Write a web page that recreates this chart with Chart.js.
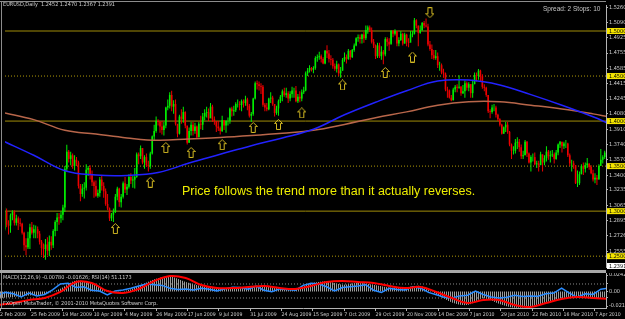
<!DOCTYPE html>
<html>
<head>
<meta charset="utf-8">
<script src="https://cdn.jsdelivr.net/npm/chart.js@4.4.1/dist/chart.umd.min.js"></script>
<style>
  html, body { margin: 0; padding: 0; background: #000; }
  #wrap { position: relative; width: 625px; height: 319px; overflow: hidden; background: #000; }
  #mainCanvas { position: absolute; left: 0; top: 0; }
  #indCanvas { position: absolute; left: 0; top: 273px; }
  .rule { position: absolute; background: #8c8c8c; }
  .txt { position: absolute; white-space: nowrap; line-height: 1; }
  .small { font-family: 'Liberation Sans Narrow', 'DejaVu Sans Condensed', 'Liberation Sans', Arial, sans-serif; font-size: 5.5px; color: #d0d0d0; }
  #hdr { left: 3px; top: 2px; }
  #spread { left: 543px; top: 6px; font-family: 'Liberation Sans', Arial, sans-serif; font-size: 6.5px; color: #c4c4c4; }
  #note { left: 182px; top: 185px; font-family: 'Liberation Sans', Arial, sans-serif; font-size: 12.5px; color: #eeee00; }
  #indName { left: 3px; top: 275px; }
  #copy { left: 3px; top: 301px; }
</style>
</head>
<body>
<div id="wrap">
  <canvas id="mainCanvas" width="625" height="272"></canvas>
  <canvas id="indCanvas" width="625" height="46"></canvas>
  <div class="rule" style="left:0;top:1px;width:606px;height:1px;"></div>
  <div class="rule" style="left:1px;top:1px;width:1px;height:307px;"></div>
  <div class="rule" style="left:0;top:270px;width:606px;height:3px;background:#a8a8a8;"></div>
  <div class="txt small" id="hdr">EURUSD,Daily&nbsp; 1.2452 1.2470 1.2367 1.2391</div>
  <div class="txt" id="spread">Spread: 2 Stops: 10</div>
  <div class="txt" id="note">Price follows the trend more than it actually reverses.</div>
  <div class="txt small" id="indName">MACD(12,26,9) -0.00780 -0.01626; RSI(14) 51.1173</div>
  <div class="txt small" id="copy">FXOpen MetaTrader, © 2001-2010 MetaQuotes Software Corp.</div>
</div>
<script>
// EURUSD daily, 2 Feb 2009 .. 14 Apr 2010, prices in pips (x 10000)
// one row per week, bar 0 = 2 Feb 2009
const firstOpen = 12806;
const closes = [
  12795, 13000, 12850, 12840, 12955,
  12990, 12870, 12920, 12870, 12860,
  12760, 12620, 12600, 12700, 12820,
  12760, 12800, 12800, 12750, 12660,
  12590, 12580, 12630, 12560, 12660,
  12620, 12780, 12880, 12930, 12920,
  12960, 13040, 13470, 13660, 13580,
  13620, 13500, 13570, 13540, 13280,
  13190, 13250, 13260, 13460, 13480,
  13400, 13320, 13280, 13170, 13200,
  13350, 13280, 13220, 13080, 13030,
  12920, 12960, 12990, 13160, 13250,
  13100, 13160, 13310, 13240, 13270,
  13380, 13340, 13350, 13380, 13630,
  13610, 13700, 13540, 13600, 13510,
  13500, 13640, 13830, 13890, 14000,
  13990, 13940, 13900, 13950, 14150,
  14170, 14290, 14160, 14190, 13970,
  13860, 14050, 14020, 14100, 13950,
  13760, 13890, 13960, 13890, 13940,
  13820, 13970, 13960, 14050, 14090,
  14100, 14030, 14160, 14020, 14000,
  13940, 13920, 13890, 14010, 13950,
  14000, 14000, 14140, 14110, 14120,
  14190, 14190, 14180, 14220, 14200,
  14240, 14170, 14060, 14080, 14250,
  14420, 14410, 14390, 14380, 14180,
  14150, 14130, 14250, 14260, 14190,
  14090, 14140, 14220, 14270, 14330,
  14290, 14310, 14250, 14300, 14340,
  14340, 14220, 14270, 14250, 14320,
  14340, 14530, 14560, 14590, 14570,
  14590, 14700, 14710, 14720, 14690,
  14640, 14780, 14750, 14690, 14680,
  14610, 14580, 14630, 14530, 14560,
  14680, 14710, 14690, 14780, 14710,
  14790, 14840, 14920, 14930, 14910,
  14960, 14920, 15010, 15040, 15010,
  14880, 14840, 14720, 14840, 14720,
  14770, 14740, 14910, 14880, 14850,
  15000, 14970, 15000, 14860, 14900,
  14970, 14860, 14960, 14880, 14870,
  14960, 14970, 15120, 15060, 14980,
  15010, 15090, 15060, 15050, 14850,
  14800, 14730, 14700, 14720, 14620,
  14620, 14540, 14530, 14350, 14340,
  14260, 14230, 14350, 14380,
  14370, 14380, 14310, 14330,
  14420, 14370, 14410, 14310, 14410,
  14510, 14500, 14560, 14500, 14380,
  14370, 14290, 14110, 14100, 14150,
  14150, 14070, 14020, 13960, 13860,
  13930, 13960, 13880, 13740, 13670,
  13670, 13760, 13770, 13710, 13610,
  13620, 13770, 13640, 13540, 13600,
  13600, 13520, 13530, 13510, 13630,
  13540, 13590, 13660, 13610, 13620,
  13630, 13580, 13650, 13740, 13770,
  13720, 13750, 13750, 13620, 13530,
  13530, 13510, 13310, 13310, 13410,
  13500, 13470, 13510, 13530, 13490,
  13420, 13350, 13370, 13350, 13500,
  13570, 13600, 13650
];
const highs = [
  12880, 13040, 13030, 12900, 12975,
  13010, 13010, 12960, 12940, 12920,
  12870, 12770, 12700, 12770, 12860,
  12880, 12850, 12840, 12830, 12780,
  12680, 12640, 12690, 12710, 12730,
  12720, 12800, 12900, 12980, 12980,
  13000, 13070, 13500, 13738, 13680,
  13660, 13640, 13620, 13600, 13560,
  13300, 13300, 13320, 13520, 13500,
  13510, 13450, 13340, 13340, 13240,
  13380, 13390, 13320, 13250, 13190,
  13040, 12980, 13030, 13190, 13270,
  13260, 13190, 13330, 13380, 13300,
  13410, 13420, 13390, 13480, 13650,
  13650, 13730, 13700, 13620, 13640,
  13560, 13660, 13840, 13960, 14050,
  14020, 14000, 14000, 13990, 14160,
  14240, 14320, 14338, 14230, 14240,
  13960, 14070, 14130, 14160, 14110,
  13920, 13930, 13990, 13990, 13980,
  13950, 13990, 14060, 14090, 14130,
  14160, 14140, 14200, 14180, 14050,
  14000, 14000, 13940, 14060, 14010,
  14010, 14040, 14150, 14160, 14170,
  14210, 14240, 14220, 14240, 14240,
  14280, 14260, 14190, 14100, 14260,
  14440, 14450, 14440, 14420, 14400,
  14200, 14200, 14260, 14320, 14280,
  14190, 14170, 14240, 14290, 14350,
  14370, 14370, 14330, 14330, 14380,
  14370, 14390, 14300, 14330, 14350,
  14380, 14550, 14590, 14620, 14600,
  14610, 14720, 14740, 14770, 14740,
  14710, 14790, 14843, 14790, 14730,
  14700, 14640, 14670, 14640, 14600,
  14700, 14760, 14740, 14800, 14790,
  14800, 14860, 14930, 14960, 14960,
  14970, 14990, 15060, 15060, 15060,
  15040, 14910, 14850, 14870, 14870,
  14830, 14790, 14930, 14930, 14920,
  15010, 15010, 15020, 15000, 14930,
  15000, 14980, 14980, 14970, 14920,
  15000, 15000, 15144, 15130, 15060,
  15060, 15100, 15110, 15140, 15080,
  14890, 14850, 14790, 14790, 14760,
  14660, 14640, 14580, 14540, 14380,
  14350, 14290, 14370, 14400,
  14410, 14510, 14390, 14400,
  14450, 14440, 14430, 14410, 14460,
  14540, 14540, 14579, 14570, 14520,
  14410, 14380, 14290, 14130, 14180,
  14190, 14170, 14080, 14030, 13970,
  13940, 13990, 13990, 13890, 13750,
  13720, 13800, 13820, 13800, 13740,
  13670, 13790, 13780, 13650, 13620,
  13640, 13650, 13560, 13560, 13660,
  13630, 13620, 13720, 13680, 13670,
  13680, 13650, 13680, 13750, 13780,
  13770, 13770, 13790, 13760, 13640,
  13570, 13560, 13510, 13450, 13440,
  13520, 13540, 13540, 13590, 13530,
  13510, 13460, 13420, 13400, 13520,
  13690, 13620, 13670
];
const lows = [
  12755, 12780, 12820, 12740, 12760,
  12900, 12840, 12840, 12790, 12830,
  12740, 12560, 12510, 12580, 12580,
  12740, 12700, 12700, 12700, 12630,
  12510, 12480, 12460, 12510, 12500,
  12570, 12590, 12720, 12780, 12850,
  12870, 12900, 12990, 13440, 13540,
  13510, 13470, 13450, 13500, 13250,
  13110, 13160, 13140, 13230, 13390,
  13350, 13280, 13150, 13160, 13150,
  13160, 13230, 13150, 13060, 13010,
  12890, 12890, 12880, 12980, 13120,
  13050, 13040, 13140, 13200, 13180,
  13250, 13300, 13260, 13250, 13370,
  13520, 13580, 13520, 13470, 13490,
  13440, 13470, 13630, 13780, 13870,
  13950, 13870, 13850, 13840, 13920,
  14120, 14140, 14110, 14080, 13950,
  13820, 13850, 13970, 13980, 13920,
  13740, 13760, 13840, 13840, 13860,
  13800, 13820, 13910, 13900, 14010,
  14040, 14000, 14040, 13990, 13960,
  13880, 13890, 13850, 13880, 13900,
  13870, 13950, 13970, 14050, 14060,
  14100, 14150, 14120, 14110, 14150,
  14170, 14120, 14040, 13990, 14060,
  14240, 14350, 14340, 14300, 14160,
  14110, 14110, 14120, 14200, 14170,
  14050, 14070, 14060, 14200, 14220,
  14270, 14260, 14200, 14220, 14260,
  14260, 14210, 14200, 14210, 14220,
  14300, 14330, 14500, 14540, 14550,
  14530, 14570, 14660, 14680, 14650,
  14630, 14630, 14700, 14650, 14620,
  14580, 14560, 14540, 14500, 14480,
  14560, 14660, 14640, 14680, 14680,
  14700, 14770, 14830, 14880, 14860,
  14860, 14870, 14900, 14970, 14990,
  14860, 14810, 14690, 14700, 14700,
  14680, 14630, 14720, 14830, 14780,
  14860, 14930, 14950, 14830, 14830,
  14890, 14840, 14860, 14830, 14820,
  14880, 14930, 14960, 15030, 14830,
  14970, 15000, 15030, 15040, 14830,
  14780, 14690, 14680, 14680, 14590,
  14560, 14520, 14480, 14330, 14260,
  14250, 14220, 14230, 14320,
  14320, 14360, 14280, 14300,
  14260, 14340, 14330, 14260, 14260,
  14410, 14440, 14460, 14440, 14360,
  14330, 14270, 14090, 14030, 14080,
  14110, 14040, 14000, 13940, 13850,
  13860, 13880, 13860, 13720, 13580,
  13630, 13640, 13690, 13660, 13580,
  13580, 13620, 13600, 13530, 13440,
  13550, 13510, 13480, 13440, 13520,
  13440, 13510, 13550, 13570, 13540,
  13600, 13530, 13570, 13620, 13700,
  13650, 13690, 13700, 13600, 13500,
  13440, 13470, 13300, 13267, 13290,
  13410, 13400, 13430, 13480, 13460,
  13410, 13330, 13310, 13290, 13350,
  13540, 13530, 13580
];

// moving averages, read every 16 bars
const maBars = [0, 16, 32, 48, 64, 80, 96, 112, 128, 144, 160, 176, 192, 208, 224, 240, 256, 272, 288, 304, 312];
const maBlue = [1.3781, 1.3620, 1.3449, 1.3401, 1.3396, 1.3428, 1.3535, 1.3631, 1.3727, 1.3813, 1.3909, 1.4070, 1.4209, 1.4337, 1.4444, 1.4455, 1.4401, 1.4294, 1.4176, 1.4048, 1.3973];
const maBrown = [1.4096, 1.4016, 1.3898, 1.3856, 1.3813, 1.3786, 1.3802, 1.3818, 1.3840, 1.3866, 1.3898, 1.3963, 1.4037, 1.4102, 1.4176, 1.4214, 1.4214, 1.4176, 1.4134, 1.4080, 1.4048];

// swing arrows
const upArrowBars = [58, 76, 84, 97, 113, 129, 142, 154, 175, 197, 211];
const upArrowPrices = [1.2807, 1.3321, 1.3706, 1.3652, 1.3738, 1.3930, 1.3963, 1.4091, 1.4401, 1.4540, 1.4711];
const downArrowBars = [220];
const downArrowPrices = [1.5203];

// round-number levels, current bid
const solidLevels = [1.5000, 1.4000, 1.3000];
const dottedLevels = [1.4500, 1.3500, 1.2500];
const bidPrice = 1.2391;

// price axis
const priceTicks = [1.5260, 1.5090, 1.4925, 1.4755, 1.4585, 1.4415, 1.4245, 1.4080, 1.3910, 1.3740, 1.3570, 1.3400, 1.3235, 1.3065, 1.2895, 1.2726, 1.2555];

// time axis
const dateBars = [0, 17, 33, 49, 65, 81, 97, 113, 129, 145, 161, 177, 193, 209, 225, 241, 257, 273, 289, 305];
const dateLabels = ['2 Feb 2009', '25 Feb 2009', '19 Mar 2009', '10 Apr 2009', '4 May 2009', '26 May 2009', '17 Jun 2009', '9 Jul 2009', '31 Jul 2009', '24 Aug 2009', '15 Sep 2009', '7 Oct 2009', '29 Oct 2009', '20 Nov 2009', '14 Dec 2009', '7 Jan 2010', '29 Jan 2010', '22 Feb 2010', '16 Mar 2010', '7 Apr 2010'];

// MACD(12,26,9), read every 8 bars
const macdBars = [0, 8, 16, 24, 32, 40, 48, 56, 64, 72, 80, 88, 96, 104, 112, 120, 128, 136, 144, 152, 160, 168, 176, 184, 192, 200, 208, 216, 224, 232, 240, 248, 256, 264, 272, 280, 288, 296, 304, 312];
const macdMain = [-0.010, -0.008, -0.006, -0.004, 0.004, 0.016, 0.012, 0.002, 0.000, 0.008, 0.018, 0.022, 0.014, 0.008, 0.004, 0.006, 0.006, 0.008, 0.005, 0.004, 0.012, 0.015, 0.010, 0.013, 0.010, 0.006, 0.006, 0.008, -0.004, -0.016, -0.020, -0.010, -0.018, -0.024, -0.022, -0.016, -0.010, -0.008, -0.010, -0.008];
const macdSignal = [-0.0198, -0.0169, -0.0125, -0.0096, -0.0007, 0.0140, 0.0125, 0.0007, -0.0022, 0.0037, 0.0154, 0.0228, 0.0198, 0.0096, 0.0051, 0.0051, 0.0066, 0.0081, 0.0051, 0.0037, 0.0081, 0.0140, 0.0154, 0.0140, 0.0125, 0.0081, 0.0051, 0.0066, -0.0007, -0.0096, -0.0169, -0.0125, -0.0125, -0.0198, -0.0228, -0.0169, -0.0110, -0.0081, -0.0096, -0.0110];

// RSI(14), read every 4 bars
const rsiBars = [0, 4, 8, 12, 16, 20, 24, 28, 32, 36, 40, 44, 48, 52, 56, 60, 64, 68, 72, 76, 80, 84, 88, 92, 96, 100, 104, 108, 112, 116, 120, 124, 128, 132, 136, 140, 144, 148, 152, 156, 160, 164, 168, 172, 176, 180, 184, 188, 192, 196, 200, 204, 208, 212, 216, 220, 224, 228, 232, 236, 240, 244, 248, 252, 256, 260, 264, 268, 272, 276, 280, 284, 288, 292, 296, 300, 304, 308, 312];
const rsiValues = [39, 46, 42, 33, 44, 36, 40, 53, 70, 72, 60, 62, 52, 50, 39, 50, 53, 58, 64, 70, 68, 66, 58, 54, 56, 53, 58, 55, 50, 56, 61, 60, 55, 64, 52, 48, 56, 54, 52, 66, 72, 70, 62, 50, 60, 62, 64, 68, 52, 46, 58, 54, 53, 62, 58, 46, 39, 32, 30, 36, 38, 50, 40, 33, 30, 32, 38, 34, 36, 35, 42, 44, 58, 44, 32, 42, 40, 55, 58];
const rsiLevels = [70, 30];
const indTicks = [0.024253, 0, -0.021343];

// visible window (bar numbers) and price range
const xMin = 1.175, xMax = 310.67;
const yMin = 1.23797, yMax = 1.52888;

const FONT = "'Liberation Sans Narrow', 'DejaVu Sans Condensed', 'Liberation Sans', Arial, sans-serif";
const AXIS_COL = '#b4b4b4';
const BULL = '#00ee00';
const BEAR = '#ee0000';

const opens = closes.map((c, i) => i === 0 ? firstOpen : closes[i - 1]);
const isBull = i => closes[i] >= opens[i];

function makeArrow(up) {
    const c = document.createElement('canvas');
    c.width = 9; c.height = 11;
    const g = c.getContext('2d');
    g.strokeStyle = '#d2b822';
    g.lineWidth = 1;
    g.beginPath();
    const pts = [[4.5, 0.5], [8.5, 4.5], [6.5, 4.5], [6.5, 10.5], [2.5, 10.5], [2.5, 4.5], [0.5, 4.5]];
    pts.forEach(([px, py], k) => {
        const yy = up ? py : 11 - py;
        if (k === 0) g.moveTo(px, yy); else g.lineTo(px, yy);
    });
    g.closePath();
    g.stroke();
    return c;
}

function hLine(level, color, dash) {
    return {
        type: 'line',
        data: [{ x: xMin, y: level }, { x: xMax, y: level }],
        borderColor: color,
        borderWidth: 1,
        borderDash: dash,
        pointRadius: 0,
        order: 20
    };
}

// yellow tags for round levels, white tag for bid
const levelTags = {
    id: 'levelTags',
    afterDraw(chart) {
        const ctx = chart.ctx;
        const ys = chart.scales.y;
        const left = ys.left + 1;
        const tag = (v, bg) => {
            const y = ys.getPixelForValue(v);
            ctx.save();
            ctx.fillStyle = bg;
            ctx.fillRect(left, y - 3, 18, 6);
            ctx.fillStyle = '#000';
            ctx.font = '5.5px ' + FONT;
            ctx.textBaseline = 'middle';
            ctx.fillText(v.toFixed(4), left + 2, y + 0.3);
            ctx.restore();
        };
        solidLevels.concat(dottedLevels).forEach(v => tag(v, '#f4e400'));
        tag(bidPrice, '#ffffff');
    }
};

const mainChart = new Chart(document.getElementById('mainCanvas'), {
    type: 'bar',
    data: {
        datasets: [
            ...solidLevels.map(v => hLine(v, '#a08c08', [])),
            ...dottedLevels.map(v => hLine(v, '#b09a08', [1, 2])),
            {
                // wicks
                type: 'bar',
                data: closes.map((c, i) => ({ x: i, y: [lows[i] / 1e4, highs[i] / 1e4] })),
                backgroundColor: ctx => isBull(ctx.dataIndex) ? BULL : BEAR,
                barThickness: 1,
                grouped: false,
                inflateAmount: 0,
                borderWidth: 0,
                order: 6
            },
            {
                // bodies
                type: 'bar',
                data: closes.map((c, i) => ({ x: i, y: [opens[i] / 1e4, c / 1e4] })),
                backgroundColor: ctx => isBull(ctx.dataIndex) ? BULL : BEAR,
                barThickness: 1.6,
                grouped: false,
                inflateAmount: 0,
                borderWidth: 0,
                order: 5
            },
            {
                type: 'line',
                data: maBars.map((b, k) => ({ x: b, y: maBrown[k] })),
                borderColor: '#b8664a',
                borderWidth: 1.5,
                pointRadius: 0,
                tension: 0.4,
                order: 3
            },
            {
                type: 'line',
                data: maBars.map((b, k) => ({ x: b, y: maBlue[k] })),
                borderColor: '#2222ff',
                borderWidth: 1.5,
                pointRadius: 0,
                tension: 0.4,
                order: 2
            },
            {
                type: 'scatter',
                data: upArrowBars.map((b, k) => ({ x: b, y: upArrowPrices[k] })),
                pointStyle: makeArrow(true),
                order: 1
            },
            {
                type: 'scatter',
                data: downArrowBars.map((b, k) => ({ x: b, y: downArrowPrices[k] })),
                pointStyle: makeArrow(false),
                order: 1
            }
        ]
    },
    options: {
        responsive: false,
        animation: false,
        events: [],
        layout: { padding: 0 },
        plugins: { legend: { display: false }, tooltip: { enabled: false } },
        scales: {
            x: { type: 'linear', min: xMin, max: xMax, display: false, offset: false },
            y: {
                position: 'right',
                min: yMin,
                max: yMax,
                afterBuildTicks: s => { s.ticks = priceTicks.map(v => ({ value: v })); },
                afterFit: s => { s.width = 19; s.paddingTop = 0; s.paddingBottom = 0; },
                ticks: {
                    autoSkip: false,
                    padding: 1,
                    color: '#d0d0d0',
                    font: { family: FONT, size: 5.5 },
                    callback: v => v.toFixed(4)
                },
                grid: { drawOnChartArea: false, tickLength: 2, color: AXIS_COL },
                border: { color: AXIS_COL }
            }
        }
    },
    plugins: [levelTags]
});

// striped fill like MT4 histogram lines
const stripe = document.createElement('canvas');
stripe.width = 2; stripe.height = 1;
const sg = stripe.getContext('2d');
sg.fillStyle = '#9c9c9c';
sg.fillRect(0, 0, 1, 1);
const stripePattern = sg.createPattern(stripe, 'repeat');

const indChart = new Chart(document.getElementById('indCanvas'), {
    type: 'line',
    data: {
        datasets: [
            {
                data: macdBars.map((b, k) => ({ x: b, y: macdMain[k] })),
                yAxisID: 'macd',
                borderWidth: 0,
                borderColor: 'rgba(0,0,0,0)',
                backgroundColor: stripePattern,
                fill: 'origin',
                pointRadius: 0,
                tension: 0.3,
                order: 10
            },
            ...rsiLevels.map(v => ({
                data: [{ x: xMin, y: v }, { x: xMax, y: v }],
                yAxisID: 'rsi',
                borderColor: '#8a8a8a',
                borderWidth: 1,
                borderDash: [1, 2],
                pointRadius: 0,
                order: 9
            })),
            {
                data: rsiBars.map((b, k) => ({ x: b, y: rsiValues[k] })),
                yAxisID: 'rsi',
                borderColor: '#2a8cff',
                borderWidth: 1.5,
                pointRadius: 0,
                order: 3
            },
            {
                data: macdBars.map((b, k) => ({ x: b, y: macdSignal[k] })),
                yAxisID: 'macd',
                borderColor: '#ff0000',
                borderWidth: 2,
                pointRadius: 0,
                tension: 0.4,
                order: 2
            }
        ]
    },
    options: {
        responsive: false,
        animation: false,
        events: [],
        layout: { padding: 0 },
        plugins: { legend: { display: false }, tooltip: { enabled: false } },
        scales: {
            x: {
                type: 'linear',
                min: xMin,
                max: xMax,
                afterBuildTicks: s => { s.ticks = dateBars.map(b => ({ value: Math.max(b, xMin) })); },
                afterFit: s => { s.height = 11; s.paddingLeft = 0; s.paddingRight = 0; },
                ticks: {
                    autoSkip: false,
                    maxRotation: 0,
                    align: 'start',
                    padding: 1,
                    color: '#d0d0d0',
                    font: { family: FONT, size: 5.2 },
                    callback: (v, i) => dateLabels[i]
                },
                grid: { drawOnChartArea: false, tickLength: 3, color: AXIS_COL },
                border: { color: AXIS_COL }
            },
            rsi: {
                position: 'right',
                weight: 0,
                min: 1.4,
                max: 101.4,
                afterBuildTicks: s => { s.ticks = rsiLevels.map(v => ({ value: v })); },
                afterFit: s => { s.width = 0; s.paddingTop = 0; s.paddingBottom = 0; },
                ticks: {
                    autoSkip: false,
                    padding: 3,
                    color: '#d0d0d0',
                    font: { family: FONT, size: 5.5 },
                    callback: v => String(v)
                },
                grid: { drawOnChartArea: false, tickLength: 2, color: AXIS_COL },
                border: { display: false }
            },
            macd: {
                position: 'right',
                weight: 1,
                min: -0.02426,
                max: 0.0272,
                afterBuildTicks: s => { s.ticks = indTicks.map(v => ({ value: v })); },
                afterFit: s => { s.width = 19; s.paddingTop = 0; s.paddingBottom = 0; },
                ticks: {
                    autoSkip: false,
                    padding: 1,
                    color: '#d0d0d0',
                    font: { family: FONT, size: 5.5 },
                    callback: v => v === 0 ? '0.00' : String(v)
                },
                grid: { drawOnChartArea: false, tickLength: 2, color: AXIS_COL },
                border: { color: AXIS_COL }
            }
        }
    }
});
</script>
</body>
</html>
